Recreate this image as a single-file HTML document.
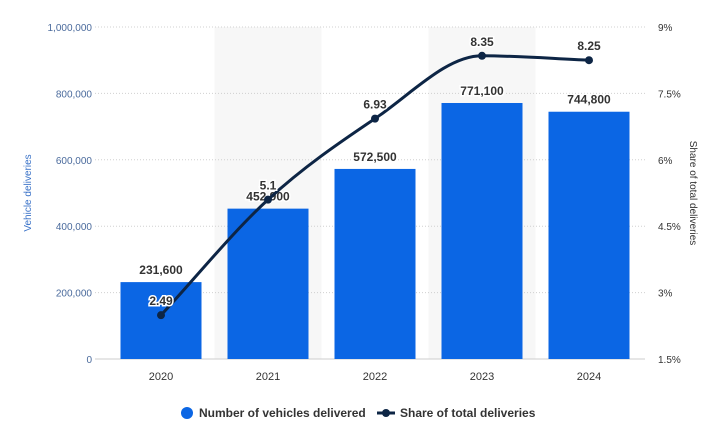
<!DOCTYPE html>
<html><head><meta charset="utf-8"><style>
body{margin:0;background:#fff;font-family:"Liberation Sans",sans-serif;}
svg text{font-family:"Liberation Sans",sans-serif;}
</style></head><body>
<svg id="chart" width="707" height="433" xmlns="http://www.w3.org/2000/svg"></svg>
<script>
const categories=["2020","2021","2022","2023","2024"];
const deliveries=[231600,452900,572500,771100,744800];
const deliveryLabels=["231,600","452,900","572,500","771,100","744,800"];
const shares=[2.49,5.1,6.93,8.35,8.25];
const leftTicks=[0,200000,400000,600000,800000,1000000];
const leftTickLabels=["0","200,000","400,000","600,000","800,000","1,000,000"];
const rightTicks=[1.5,3,4.5,6,7.5,9];
const rightTickLabels=["1.5%","3%","4.5%","6%","7.5%","9%"];

const NS="http://www.w3.org/2000/svg";
const svg=document.getElementById('chart');
const X0=107.5,X1=642.5,Y0=359,Y1=27;
const band=(X1-X0)/categories.length;
const xc=i=>X0+band*(i+0.5);
const yL=v=>Y0-(v/1000000)*(Y0-Y1);
const yR=v=>Y0-((v-1.5)/7.5)*(Y0-Y1);
function el(t,a,txt){const e=document.createElementNS(NS,t);for(const k in a)e.setAttribute(k,a[k]);if(txt!=null)e.textContent=txt;svg.appendChild(e);return e;}

categories.forEach((c,i)=>{if(i%2==1){const r=el('rect',{x:X0+band*i,y:Y1,width:band,height:Y0-Y1,fill:'#f7f7f7'});

}});
leftTicks.forEach((t,i)=>{
 if(i>0){const g=el('line',{x1:95,x2:645,y1:yL(t),y2:yL(t),stroke:'#d0d0d0','stroke-dasharray':'1,2'});
 
 }
 const tl=el('text',{x:92,y:yL(t)+4,'text-anchor':'end','font-size':10,fill:'#4a6a9c'},leftTickLabels[i]);
 
 
});
rightTicks.forEach((t,i)=>{
 const tl=el('text',{x:658,y:yR(t)+4,'text-anchor':'start','font-size':10,fill:'#333'},rightTickLabels[i]);
 
 
});
const ax=el('line',{x1:95,x2:645,y1:Y0,y2:Y0,stroke:'#ccc'});


const lt=el('text',{x:0,y:0,transform:'translate(31,193) rotate(-90)','text-anchor':'middle','font-size':10,fill:'#3b73c8'},'Vehicle deliveries');


const rt=el('text',{x:0,y:0,transform:'translate(690,193) rotate(90)','text-anchor':'middle','font-size':10,fill:'#333'},'Share of total deliveries');



deliveries.forEach((v,i)=>{
 const b=el('rect',{x:xc(i)-40.5,y:yL(v),width:81,height:Y0-yL(v),fill:'#0b66e4'});
 
 
 const l=el('text',{x:xc(i),y:yL(v)-8,'text-anchor':'middle','font-size':12,'font-weight':'bold',fill:'#333',stroke:'#fff','stroke-width':3,'paint-order':'stroke'},deliveryLabels[i]);
 
 
 const xl=el('text',{x:xc(i),y:380,'text-anchor':'middle','font-size':11,fill:'#333'},categories[i]);
 
 
});

// monotone cubic interpolation
const pts=shares.map((s,i)=>[xc(i),yR(s)]);
const n=pts.length;
const dk=[];for(let i=0;i<n-1;i++)dk.push((pts[i+1][1]-pts[i][1])/(pts[i+1][0]-pts[i][0]));
const m=[];
for(let i=0;i<n;i++){
 if(i==0)m.push(dk[0]);else if(i==n-1)m.push(dk[n-2]);
 else m.push(dk[i-1]*dk[i]<=0?0:(dk[i-1]+dk[i])/2);
}
for(let i=0;i<n-1;i++){
 if(dk[i]==0){m[i]=0;m[i+1]=0;continue;}
 const a=m[i]/dk[i],b=m[i+1]/dk[i],s=a*a+b*b;
 if(s>9){const t=3/Math.sqrt(s);m[i]=t*a*dk[i];m[i+1]=t*b*dk[i];}
}
let d='M'+pts[0][0]+','+pts[0][1];
for(let i=0;i<n-1;i++){
 const h=(pts[i+1][0]-pts[i][0])/3;
 d+=' C'+(pts[i][0]+h)+','+(pts[i][1]+m[i]*h)+' '+(pts[i+1][0]-h)+','+(pts[i+1][1]-m[i+1]*h)+' '+pts[i+1][0]+','+pts[i+1][1];
}
const line=el('path',{d:d,fill:'none',stroke:'#0d2545','stroke-width':3});


pts.forEach((p,i)=>{
 const c=el('circle',{cx:p[0],cy:p[1],r:4,fill:'#0d2545'});
 
 
 const l=el('text',{x:p[0],y:p[1]-10,'text-anchor':'middle','font-size':12,'font-weight':'bold',fill:'#333',stroke:'#fff','stroke-width':3,'paint-order':'stroke'},String(shares[i]));
 
 
});

const lc=el('circle',{cx:187,cy:413,r:6,fill:'#0b66e4'});


const l1=el('text',{x:199,y:417,'font-size':12,'font-weight':'bold',fill:'#333'},'Number of vehicles delivered');


const ll=el('line',{x1:377,x2:395,y1:413,y2:413,stroke:'#0d2545','stroke-width':3});


const lp=el('circle',{cx:386,cy:413,r:4,fill:'#0d2545'});


const l2=el('text',{x:400,y:417,'font-size':12,'font-weight':'bold',fill:'#333'},'Share of total deliveries');


</script>
</body></html>
